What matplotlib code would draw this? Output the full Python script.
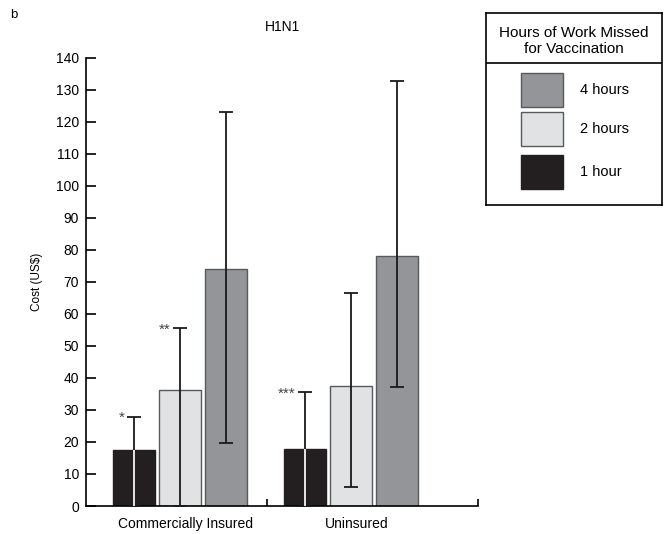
import numpy as np
import matplotlib
matplotlib.use("Agg")
import matplotlib.pyplot as plt
from matplotlib.patches import Rectangle

plt.rcParams['font.family'] = ['Liberation Sans', 'DejaVu Sans']

# data
groups = ["Commercially Insured", "Uninsured"]
series = ["1 hour", "2 hours", "4 hours"]
means = {
    "1 hour": [17.4, 17.7],
    "2 hours": [36.2, 37.5],
    "4 hours": [73.9, 78.0],
}
upper = {
    "1 hour": [27.9, 35.5],
    "2 hours": [55.5, 66.4],
    "4 hours": [123.0, 132.7],
}
lower = {
    "1 hour": [0.0, 0.0],
    "2 hours": [0.0, 5.9],
    "4 hours": [19.7, 37.3],
}
stars = {
    "1 hour": ["*", "***"],
    "2 hours": ["**", ""],
    "4 hours": ["", ""],
}
colors = {"1 hour": "#231f20", "2 hours": "#e1e2e4", "4 hours": "#939598"}
edges = {"1 hour": "#231f20", "2 hours": "#58595b", "4 hours": "#58595b"}

fig = plt.figure(figsize=(6.65, 5.34), dpi=100)
ax = fig.add_axes([86 / 665, 1 - 506 / 534, 392 / 665, 448.5 / 534])

x = np.arange(len(groups))
width = 0.245
step = 0.268

for i, s in enumerate(series):
    pos = x + (i - 1) * step
    m = np.array(means[s])
    up = np.array(upper[s]) - m
    lo = m - np.array(lower[s])
    ax.bar(pos, m, width, color=colors[s], edgecolor=edges[s], linewidth=1.0, zorder=2)
    ax.errorbar(pos, m, yerr=[lo, up], fmt="none", ecolor="#1a1a1a",
                elinewidth=1.3, capsize=5, capthick=1.3, zorder=3)
    if s == "1 hour":
        # the error line shows light inside the dark bars
        ax.vlines(pos, 0, m, color="#e6e6e6", linewidth=1.4, zorder=4)
    for p, u, st in zip(pos, upper[s], stars[s]):
        if st:
            ax.annotate(st, xy=(p, u), xytext=(-7, -4), textcoords="offset points",
                        ha="right", va="baseline", fontsize=11, color="#444444")

ax.set_xlim(-0.548, 1.738)
ax.set_ylim(0, 140)
ax.set_yticks(np.arange(0, 141, 10))
ax.tick_params(axis="y", direction="in", length=7, width=1.2, pad=5, labelsize=10)
ax.set_xticks([0.507, 1.738])
ax.set_xticklabels([])
ax.tick_params(axis="x", direction="in", length=5, width=1.2)
for side in ["top", "right"]:
    ax.spines[side].set_visible(False)
for side in ["left", "bottom"]:
    ax.spines[side].set_linewidth(1.2)

for g, name in zip(x, groups):
    ax.text(g + 0.03, -3.5, name, ha="center", va="top", fontsize=10)

ax.set_ylabel("Cost (US$)", fontsize=8.5, labelpad=9)
ax.set_title("H1N1", fontsize=10, pad=19)
fig.text(10 / 665, 1 - 15 / 534, "b", fontsize=9.5, ha="left", va="center")

# legend box
lax = fig.add_axes([486 / 665, 1 - 205 / 534, 176 / 665, 192 / 534])
lax.set_xlim(0, 176)
lax.set_ylim(192, 0)
lax.set_xticks([])
lax.set_yticks([])
for sp in lax.spines.values():
    sp.set_linewidth(1.2)
lax.axhline(50, color="black", linewidth=1.2)
lax.text(88, 28, "Hours of Work Missed\nfor Vaccination", ha="center", va="center",
         fontsize=11, linespacing=1.1)
for s, ytop in zip(["4 hours", "2 hours", "1 hour"], [60, 99, 142]):
    lax.add_patch(Rectangle((35, ytop), 42, 34, facecolor=colors[s],
                            edgecolor=edges[s], linewidth=1.0))
    lax.text(94, ytop + 17, s, ha="left", va="center", fontsize=10.5)

fig.savefig("out.png", dpi=100)
